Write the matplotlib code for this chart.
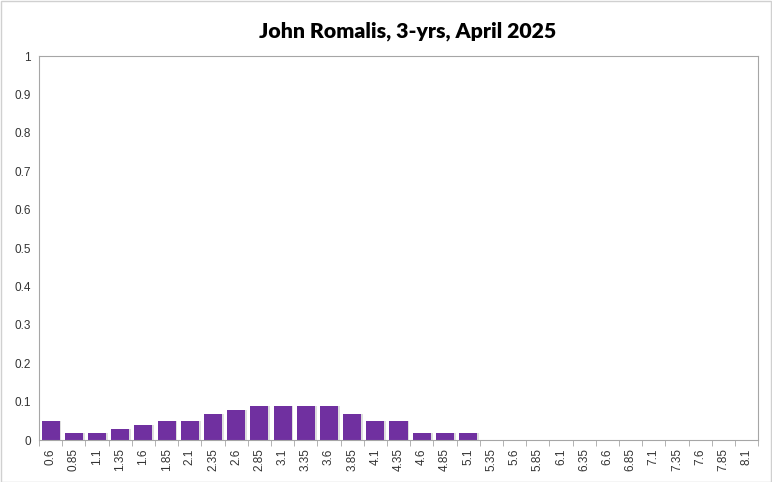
import numpy as np
import matplotlib.pyplot as plt
from matplotlib.patches import Rectangle

# categorias y probabilidades
cats = ["0.6", "0.85", "1.1", "1.35", "1.6", "1.85", "2.1", "2.35", "2.6", "2.85",
        "3.1", "3.35", "3.6", "3.85", "4.1", "4.35", "4.6", "4.85", "5.1", "5.35",
        "5.6", "5.85", "6.1", "6.35", "6.6", "6.85", "7.1", "7.35", "7.6", "7.85", "8.1"]
vals = [0.049, 0.019, 0.019, 0.029, 0.039, 0.049, 0.049, 0.069, 0.078, 0.088,
        0.088, 0.088, 0.088, 0.069, 0.049, 0.049, 0.019, 0.019, 0.019, 0,
        0, 0, 0, 0, 0, 0, 0, 0, 0, 0, 0]
yticks = [0, 0.1, 0.2, 0.3, 0.4, 0.5, 0.6, 0.7, 0.8, 0.9, 1]
ylabels = ["0", "0.1", "0.2", "0.3", "0.4", "0.5", "0.6", "0.7", "0.8", "0.9", "1"]

fig = plt.figure(figsize=(7.72, 4.82), dpi=100)
ax = fig.add_axes([0.0505, 0.0871, 0.9315, 0.7967])

x = np.arange(len(cats))
# sombra suave
ax.bar(x + 0.08, vals, width=0.78, color="#c8c8c8", alpha=0.6, zorder=1)
ax.bar(x, vals, width=0.78, color="#7030A0", zorder=2)

ax.set_xlim(-0.5, len(cats) - 0.5)
ax.set_ylim(0, 1)
ax.set_yticks(yticks)
ax.set_yticklabels(ylabels, fontfamily="Liberation Sans", fontsize=8.5, color="#333333")
ax.set_xticks(x)
ax.set_xticklabels(cats, rotation=90, fontfamily="Liberation Sans", fontsize=8.5,
                   color="#333333")
ax.set_xticks(np.arange(len(cats) + 1) - 0.5, minor=True)
ax.tick_params(axis="x", which="major", length=0, pad=6)
ax.tick_params(axis="x", which="minor", length=4, color="#a6a6a6")
ax.tick_params(axis="y", length=0, pad=6)
for s in ax.spines.values():
    s.set_color("#a6a6a6")
    s.set_linewidth(0.8)

# titulo un poco desplazado a la derecha como en el original
fig.text(0.528, 0.923, "John Romalis, 3-yrs, April 2025", fontfamily="Lato",
         fontweight="heavy", fontsize=15.3, ha="center", va="baseline")

fig.patches.append(Rectangle((0.001, 0.001), 0.998, 0.997, transform=fig.transFigure,
                             fill=False, edgecolor="#d0d0d0", linewidth=1))

plt.savefig("out.png", dpi=100)
